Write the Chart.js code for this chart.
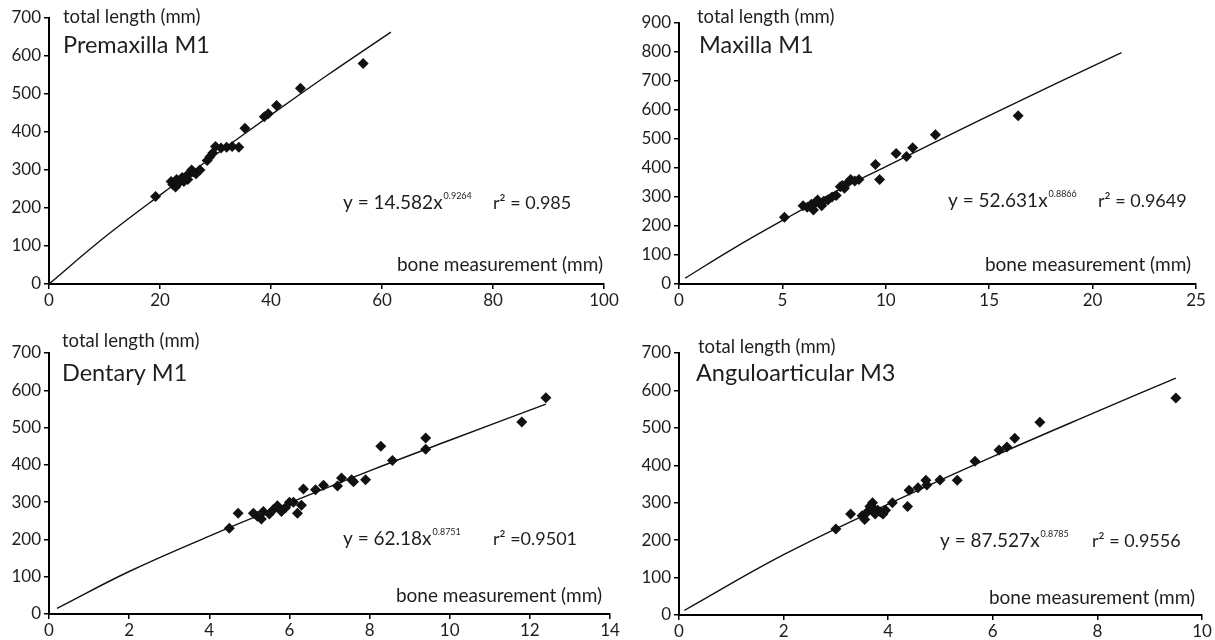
<!DOCTYPE html>
<html lang="en">
<head>
<meta charset="UTF-8">
<script src="https://cdn.jsdelivr.net/npm/chart.js@4"></script>
<title>Bone measurement vs total length</title>
<style>
  body { margin: 0; background: #fff; }
  #wrap { position: relative; width: 1215px; height: 640px; overflow: hidden; }
  canvas { position: absolute; }
</style>
</head>
<body>
<div id="wrap">
  <canvas id="c1" width="625" height="310" style="left:0;top:0"></canvas>
  <canvas id="c2" width="615" height="310" style="left:600px;top:0"></canvas>
  <canvas id="c3" width="625" height="320" style="left:0;top:320px"></canvas>
  <canvas id="c4" width="615" height="320" style="left:600px;top:320px"></canvas>
</div>

<script>
// measured points [bone measurement, total length]
const premaxilla = [[19.2,230],[22.0,270],[22.3,262],[22.8,255],[23.0,275],[23.5,268],[24.0,280],[24.3,270],
  [24.8,285],[25.0,275],[25.3,290],[25.7,300],[26.0,295],[26.5,290],[27.2,300],[28.5,325],[29.0,335],
  [29.5,345],[30.0,362],[31.0,358],[32.0,360],[33.0,362],[34.2,360],[35.3,410],[38.8,440],[39.5,448],
  [41.0,470],[45.3,515],[56.6,580]];
const maxilla = [[5.1,230],[6.0,270],[6.2,265],[6.4,275],[6.5,255],[6.6,280],[6.7,290],[6.9,270],[7.0,285],
  [7.2,290],[7.4,300],[7.6,305],[7.8,335],[7.9,340],[8.0,330],[8.1,345],[8.3,360],[8.5,355],[8.7,360],
  [9.5,412],[9.7,360],[10.5,450],[11.0,440],[11.3,470],[12.4,515],[16.4,580]];
const dentary = [[4.5,230],[4.72,270],[5.1,270],[5.2,262],[5.3,255],[5.35,275],[5.5,268],[5.6,280],[5.7,290],
  [5.8,275],[5.9,285],[6.0,300],[6.1,300],[6.2,270],[6.3,292],[6.35,335],[6.65,333],[6.85,345],[7.2,343],
  [7.3,365],[7.55,360],[7.6,355],[7.9,360],[8.28,450],[8.57,412],[9.4,472],[9.4,442],[11.8,515],[12.4,580]];
const anguloarticular = [[3.0,230],[3.28,270],[3.5,265],[3.55,255],[3.6,275],[3.65,290],[3.7,300],[3.72,285],
  [3.75,270],[3.8,280],[3.85,275],[3.9,270],[3.95,280],[4.08,300],[4.37,290],[4.4,333],[4.57,340],[4.72,360],
  [4.74,347],[4.99,361],[5.32,360],[5.66,411],[6.12,441],[6.27,449],[6.42,472],[6.9,515],[9.5,580]];

// fitted curves
const premaxillaFit = [[0,0],[10,123],[20,234],[30,340],[40,445],[50,548],[61.6,663]];
const maxillaFit = [[0.3,20],[2.5,117],[5,219],[7.5,316],[10,405],[15,581],[21.4,798]];
const dentaryFit = [[0.2,15],[2,114],[4,209],[6,298],[8,384],[10,466],[12.4,563]];
const anguloFit = [[0.1,12],[2,161],[4,296],[6,423],[8,544],[9.5,633]];

const FONT = 'Lato, "Open Sans", sans-serif';
const INK = '#1e1e1e';

const notesPlugin = {
  id: 'notes',
  afterDraw(chart, args, opts) {
    const ctx = chart.ctx;
    ctx.save();
    ctx.fillStyle = INK;
    ctx.textBaseline = 'middle';
    (opts.items || []).forEach(it => {
      ctx.font = it.size + 'px ' + FONT;
      ctx.textAlign = it.align || 'left';
      ctx.fillText(it.text, it.x, it.y);
      if (it.sup) {
        const w = ctx.measureText(it.text).width;
        ctx.font = '9px ' + FONT;
        ctx.textAlign = 'left';
        ctx.fillText(it.sup, it.x + w + 1, it.y - 7);
      }
    });
    ctx.restore();
  }
};

function toXY(arr) {
  return arr.map(p => ({ x: p[0], y: p[1] }));
}

function axis(min, max, step, size, isX) {
  return {
    type: 'linear',
    min: min, max: max,
    ticks: { stepSize: step, color: INK, font: { family: FONT, size: 17 }, padding: isX ? 1 : 3 },
    grid: { drawOnChartArea: false, color: '#000', lineWidth: 1.5, tickLength: 5 },
    border: { color: '#000', width: 2 },
    afterFit(s) { if (isX) s.height = size; else s.width = size; }
  };
}

function makeChart(id, pts, fit, xMax, xStep, yMax, yLeft, pad, notes) {
  new Chart(document.getElementById(id), {
    type: 'scatter',
    data: {
      datasets: [
        {
          data: toXY(fit), showLine: true, pointRadius: 0,
          borderColor: '#111', borderWidth: 1.4, tension: 0.4
        },
        {
          data: toXY(pts), pointStyle: 'rectRot', pointRadius: 5.5,
          backgroundColor: '#111', borderColor: '#111', borderWidth: 0
        }
      ]
    },
    options: {
      responsive: false,
      animation: false,
      layout: { padding: pad },
      plugins: { legend: { display: false }, tooltip: { enabled: false }, notes: { items: notes } },
      scales: {
        x: axis(0, xMax, xStep, pad.xh, true),
        y: axis(0, yMax, 100, yLeft, false)
      }
    },
    plugins: [notesPlugin]
  });
}

makeChart('c1', premaxilla, premaxillaFit, 100, 20, 700, 49,
  { left: 0, right: 21, top: 18, bottom: 0, xh: 26 },
  [
    { text: 'total length (mm)', x: 63, y: 17, size: 18.5 },
    { text: 'Premaxilla M1', x: 63, y: 45, size: 23.5 },
    { text: 'y = 14.582x', sup: '0.9264', x: 343, y: 203, size: 19 },
    { text: 'r\u00B2 = 0.985', x: 493, y: 203, size: 18 },
    { text: 'bone measurement (mm)', x: 603, y: 265, size: 19, align: 'right' }
  ]);

makeChart('c2', maxilla, maxillaFit, 25, 5, 900, 79,
  { left: 0, right: 19, top: 23, bottom: 0, xh: 26 },
  [
    { text: 'total length (mm)', x: 97, y: 17, size: 18.5 },
    { text: 'Maxilla M1', x: 99, y: 45, size: 23.5 },
    { text: 'y = 52.631x', sup: '0.8866', x: 348, y: 201, size: 19 },
    { text: 'r\u00B2 = 0.9649', x: 498, y: 201, size: 18 },
    { text: 'bone measurement (mm)', x: 591, y: 265, size: 19, align: 'right' }
  ]);

makeChart('c3', dentary, dentaryFit, 14, 2, 700, 49,
  { left: 0, right: 15, top: 33, bottom: 0, xh: 26 },
  [
    { text: 'total length (mm)', x: 62, y: 21, size: 18.5 },
    { text: 'Dentary M1', x: 62, y: 53, size: 23.5 },
    { text: 'y = 62.18x', sup: '0.8751', x: 343, y: 219, size: 19 },
    { text: 'r\u00B2 =0.9501', x: 493, y: 219, size: 18 },
    { text: 'bone measurement (mm)', x: 602, y: 276, size: 19, align: 'right' }
  ]);

makeChart('c4', anguloarticular, anguloFit, 10, 2, 700, 79,
  { left: 0, right: 13, top: 33, bottom: 0, xh: 25 },
  [
    { text: 'total length (mm)', x: 98, y: 27, size: 18.5 },
    { text: 'Anguloarticular M3', x: 96, y: 53, size: 23.5 },
    { text: 'y = 87.527x', sup: '0.8785', x: 340, y: 221, size: 19 },
    { text: 'r\u00B2 = 0.9556', x: 492, y: 221, size: 18 },
    { text: 'bone measurement (mm)', x: 595, y: 278, size: 19, align: 'right' }
  ]);
</script>
</body>
</html>
